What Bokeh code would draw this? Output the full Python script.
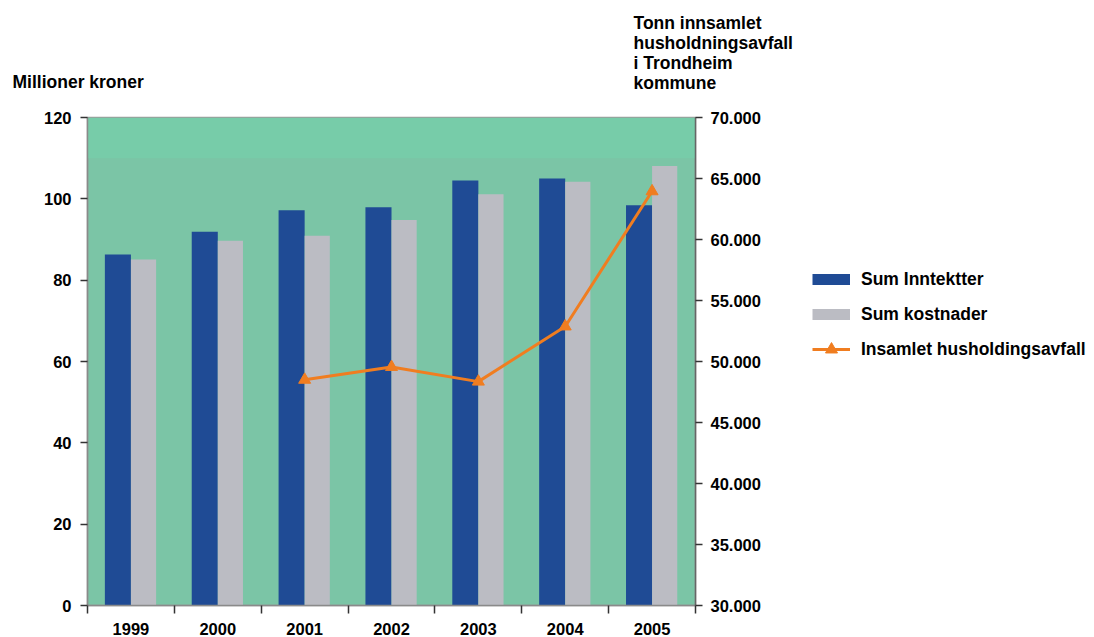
import numpy as np
from bokeh.plotting import figure
from bokeh.layouts import row
from bokeh.models import (ColumnDataSource, Range1d, LinearAxis, FixedTicker,
                          BoxAnnotation, Legend, LegendItem, Label)
from bokeh.transform import dodge
from bokeh.embed import file_html
from bokeh.resources import INLINE

years = ["1999", "2000", "2001", "2002", "2003", "2004", "2005"]
inntekter = [86.3, 91.9, 97.2, 97.9, 104.5, 105.0, 98.4]
kostnader = [85.1, 89.7, 90.9, 94.8, 101.1, 104.2, 108.1]
avfall_years = ["2001", "2002", "2003", "2004", "2005"]
avfall = [48500, 49550, 48350, 52870, 63950]
left_ticks = [0, 20, 40, 60, 80, 100, 120]
right_ticks = [30000, 35000, 40000, 45000, 50000, 55000, 60000, 65000, 70000]
right_labels = ["30.000", "35.000", "40.000", "45.000", "50.000", "55.000",
                "60.000", "65.000", "70.000"]
left_title = "Millioner kroner"
right_title = ["Tonn innsamlet", "husholdningsavfall", "i Trondheim", "kommune"]
legend_labels = ["Sum Inntektter", "Sum kostnader", "Insamlet husholdingsavfall"]

FONT = "Liberation Sans"
BLUE = "#1f4b95"
GREY = "#bbbcc3"
ORANGE = "#f07d20"
MAIN_W = 800

xc = [years.index(y) + 0.5 for y in years]
src = ColumnDataSource(dict(x=xc, inn=inntekter, kost=kostnader))
lsrc = ColumnDataSource(dict(x=[years.index(y) + 0.5 for y in avfall_years], v=avfall))

p = figure(width=MAIN_W, height=637, output_backend="svg", toolbar_location=None,
           x_range=Range1d(0, len(years)), y_range=Range1d(0, 120),
           min_border_left=87, min_border_right=MAIN_W - 695, min_border_top=117,
           min_border_bottom=25)
p.background_fill_color = "#7bc5a6"
p.border_fill_color = "white"
p.outline_line_color = "#9a9a9a"
p.outline_line_width = 1.5
p.xgrid.visible = False
p.ygrid.visible = False
p.add_layout(BoxAnnotation(bottom=110, top=120, fill_color="#77cca9",
                           fill_alpha=1, line_color=None, level="underlay"))

p.extra_y_ranges = {"t": Range1d(30000, 70000)}

p.vbar(x=dodge("x", -0.15, range=p.x_range), top="inn", width=0.30,
       source=src, fill_color=BLUE, line_color=None)
p.vbar(x=dodge("x", 0.145, range=p.x_range), top="kost", width=0.29,
       source=src, fill_color=GREY, line_color=None)
p.line(x="x", y="v", source=lsrc, y_range_name="t", line_color=ORANGE,
       line_width=3)
p.scatter(x="x", y="v", source=lsrc, y_range_name="t", marker="triangle",
          size=12, fill_color=ORANGE, line_color=ORANGE)

# x axis
xa = p.xaxis[0]
xa.ticker = FixedTicker(ticks=xc, minor_ticks=list(range(len(years) + 1)))
xa.major_label_overrides = {v: y for v, y in zip(xc, years)}
xa.major_tick_line_color = None
xa.major_tick_out = 0
xa.major_tick_in = 0
xa.minor_tick_out = 8
xa.minor_tick_in = 0
xa.minor_tick_line_color = "#333333"
xa.minor_tick_line_width = 1.5
xa.axis_line_color = "#8a8a8a"
xa.axis_line_width = 1.5
xa.major_label_standoff = 9
xa.major_label_text_font = FONT
xa.major_label_text_font_style = "bold"
xa.major_label_text_font_size = "16.5px"
xa.major_label_text_color = "black"

# left axis
ya = p.yaxis[0]
ya.ticker = FixedTicker(ticks=left_ticks)
ya.minor_tick_line_color = None
ya.major_tick_out = 7
ya.major_tick_in = 0
ya.major_tick_line_color = "#333333"
ya.major_tick_line_width = 1.5
ya.axis_line_color = "#8a8a8a"
ya.axis_line_width = 1.5
ya.major_label_standoff = 9
ya.major_label_text_font = FONT
ya.major_label_text_font_style = "bold"
ya.major_label_text_font_size = "16.5px"
ya.major_label_text_color = "black"

# right axis
ra = LinearAxis(y_range_name="t", ticker=FixedTicker(ticks=right_ticks))
ra.major_label_overrides = {t: l for t, l in zip(right_ticks, right_labels)}
ra.minor_tick_line_color = None
ra.major_tick_out = 7
ra.major_tick_in = 0
ra.major_tick_line_color = "#333333"
ra.major_tick_line_width = 1.5
ra.axis_line_color = "#666666"
ra.axis_line_width = 1.5
ra.major_label_standoff = 8
ra.major_label_text_font = FONT
ra.major_label_text_font_style = "bold"
ra.major_label_text_font_size = "16.5px"
ra.major_label_text_color = "black"
p.add_layout(ra, "right")

# axis titles in the top panel (each label occupies a 20px row)
p.add_layout(Label(x=-75, y=36, x_units="screen", y_units="screen",
                   text=left_title, text_font=FONT, text_font_style="bold",
                   text_font_size="17.5px", text_color="black",
                   text_baseline="middle"), "above")
for i, line in enumerate(right_title):
    p.add_layout(Label(x=546, y=75 - 40 * i, x_units="screen",
                       y_units="screen", text=line, text_font=FONT,
                       text_font_style="bold", text_font_size="17.5px",
                       text_color="black", text_baseline="middle"), "above")

# ---------- legend panel ----------
lf = figure(width=1094 - MAIN_W, height=637, output_backend="svg",
            toolbar_location=None, x_range=Range1d(0, 1), y_range=Range1d(0, 1),
            x_axis_type=None, y_axis_type=None, min_border_left=0,
            min_border_right=0, min_border_top=117, min_border_bottom=25)
lf.outline_line_color = None
lf.background_fill_color = "white"
lf.border_fill_color = "white"
lf.xgrid.visible = False
lf.ygrid.visible = False
# placeholder renderers (outside the visible range) that only feed the legend
g1 = lf.line(x=[5, 6], y=[5, 6], line_color=BLUE, line_width=11, line_cap="butt")
g2 = lf.line(x=[5, 6], y=[5, 6], line_color=GREY, line_width=11, line_cap="butt")
g3 = lf.line(x=[5, 6], y=[5, 6], line_color=ORANGE, line_width=3)
g4 = lf.scatter(x=[5], y=[5], marker="triangle", size=12, fill_color=ORANGE,
                line_color=ORANGE)
legend = Legend(items=[LegendItem(label=legend_labels[0], renderers=[g1]),
                       LegendItem(label=legend_labels[1], renderers=[g2]),
                       LegendItem(label=legend_labels[2], renderers=[g3, g4])],
                location=(12, 241), background_fill_alpha=0,
                border_line_color=None, glyph_width=38, glyph_height=30,
                label_height=30, spacing=5, label_standoff=11,
                label_text_font=FONT, label_text_font_style="bold",
                label_text_font_size="17.5px", label_text_color="black",
                padding=0, margin=0)
lf.add_layout(legend)

layout = row(p, lf, spacing=0)
open("out.html", "w").write(file_html(layout, INLINE))
